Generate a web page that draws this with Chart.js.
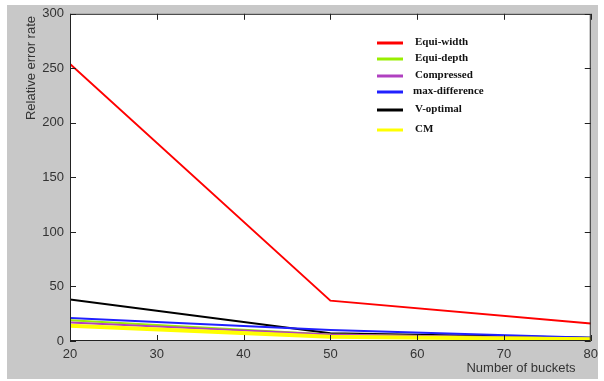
<!DOCTYPE html>
<html><head><meta charset="utf-8">
<script src="https://cdn.jsdelivr.net/npm/chart.js@4.4.0/dist/chart.umd.min.js"></script>
<style>html,body{margin:0;padding:0;background:#fff}#w{width:604px;height:381px}</style>
</head><body><div id="w"><canvas id="c"></canvas></div>
<script>
const buckets = [20, 50, 80];
const equiWidth = [254, 37, 16];
const equiDepth = [19, 6, 2];
const compressed = [17, 6, 2];
const maxDifference = [21, 10, 3];
const vOptimal = [38, 7, 3];
const cm = [14, 4, 1.5];
const seriesNames = ['Equi-width','Equi-depth','Compressed','max-difference','V-optimal','CM'];
const seriesColors = ['#ff0000','#99ee00','#b040c0','#2020ff','#000000','#ffff00'];
const seriesData = [equiWidth, equiDepth, compressed, maxDifference, vOptimal, cm];
const xTicks = [20,30,40,50,60,70,80];
const yTicks = [0,50,100,150,200,250,300];

const order = [5,2,1,3,4,0];
const datasets = order.map(i => ({
  label: seriesNames[i],
  data: buckets.map((b,k)=>({x:b,y:seriesData[i][k]})),
  borderColor: seriesColors[i],
  backgroundColor: seriesColors[i],
  borderWidth: i===5 ? 4 : 2,
  pointRadius: 0,
  tension: 0
}));

const frame = {
  id:'frame',
  beforeDraw(ch){
    const c=ch.ctx, a=ch.chartArea;
    c.save();
    c.fillStyle='#fff'; c.fillRect(0,0,ch.width,ch.height);
    c.fillStyle='#c8c8c8'; c.fillRect(7,5,591,374);
    c.fillStyle='#fff'; c.fillRect(a.left,a.top,a.right-a.left,a.bottom-a.top);
    c.restore();
  },
  afterDatasetsDraw(ch){
    const c=ch.ctx, a=ch.chartArea, xs=ch.scales.x, ys=ch.scales.y;
    c.save();
    c.strokeStyle='#222'; c.lineWidth=1;
    c.strokeRect(a.left+0.5,a.top+0.5,a.right-a.left-1,a.bottom-a.top-1);
    c.beginPath();
    xTicks.forEach(v=>{const p=Math.round(xs.getPixelForValue(v))+0.5;
      c.moveTo(p,a.bottom); c.lineTo(p,a.bottom-6);
      c.moveTo(p,a.top); c.lineTo(p,a.top+6);});
    yTicks.forEach(v=>{const p=Math.round(ys.getPixelForValue(v))+0.5;
      c.moveTo(a.left,p); c.lineTo(a.left+6,p);
      c.moveTo(a.right,p); c.lineTo(a.right-6,p);});
    c.stroke();
    const ly=[43,59,76,92,110,130];
    seriesNames.forEach((n,i)=>{
      c.strokeStyle=seriesColors[i]; c.lineWidth=3;
      c.beginPath(); c.moveTo(377,ly[i]); c.lineTo(403,ly[i]); c.stroke();
      c.fillStyle='#111'; c.font='bold 11px "Liberation Serif", serif';
      c.textBaseline='middle'; c.textAlign='left';
      c.fillText(n, i===3?413:415, ly[i]-1);
    });
    c.fillStyle='#333'; c.font='13px "Liberation Sans", Arial, sans-serif';
    c.textAlign='center'; c.textBaseline='middle';
    c.fillText('Number of buckets', 521, 368);
    c.translate(31,68); c.rotate(-Math.PI/2);
    c.fillText('Relative error rate', 0, 0);
    c.restore();
  }
};

new Chart(document.getElementById('c'), {
  type:'line',
  data:{datasets},
  plugins:[frame],
  options:{
    responsive:true, maintainAspectRatio:false, animation:false,
    layout:{padding:{left:0,top:12,right:8,bottom:0}},
    plugins:{legend:{display:false},tooltip:{enabled:false}},
    scales:{
      x:{type:'linear',min:20,max:80,
        afterBuildTicks:s=>{s.ticks=xTicks.map(v=>({value:v}));},
        afterFit:s=>{s.height=40;},
        grid:{display:false,drawTicks:false,tickLength:0},border:{display:false},
        ticks:{color:'#333',padding:6,font:{family:'"Liberation Sans", Arial, sans-serif',size:13}}},
      y:{min:0,max:300,
        afterBuildTicks:s=>{s.ticks=yTicks.map(v=>({value:v}));},
        afterFit:s=>{s.width=70;},
        grid:{display:false,drawTicks:false,tickLength:0},border:{display:false},
        ticks:{color:'#333',padding:6,font:{family:'"Liberation Sans", Arial, sans-serif',size:13}}}
    }
  }
});
</script></body></html>
